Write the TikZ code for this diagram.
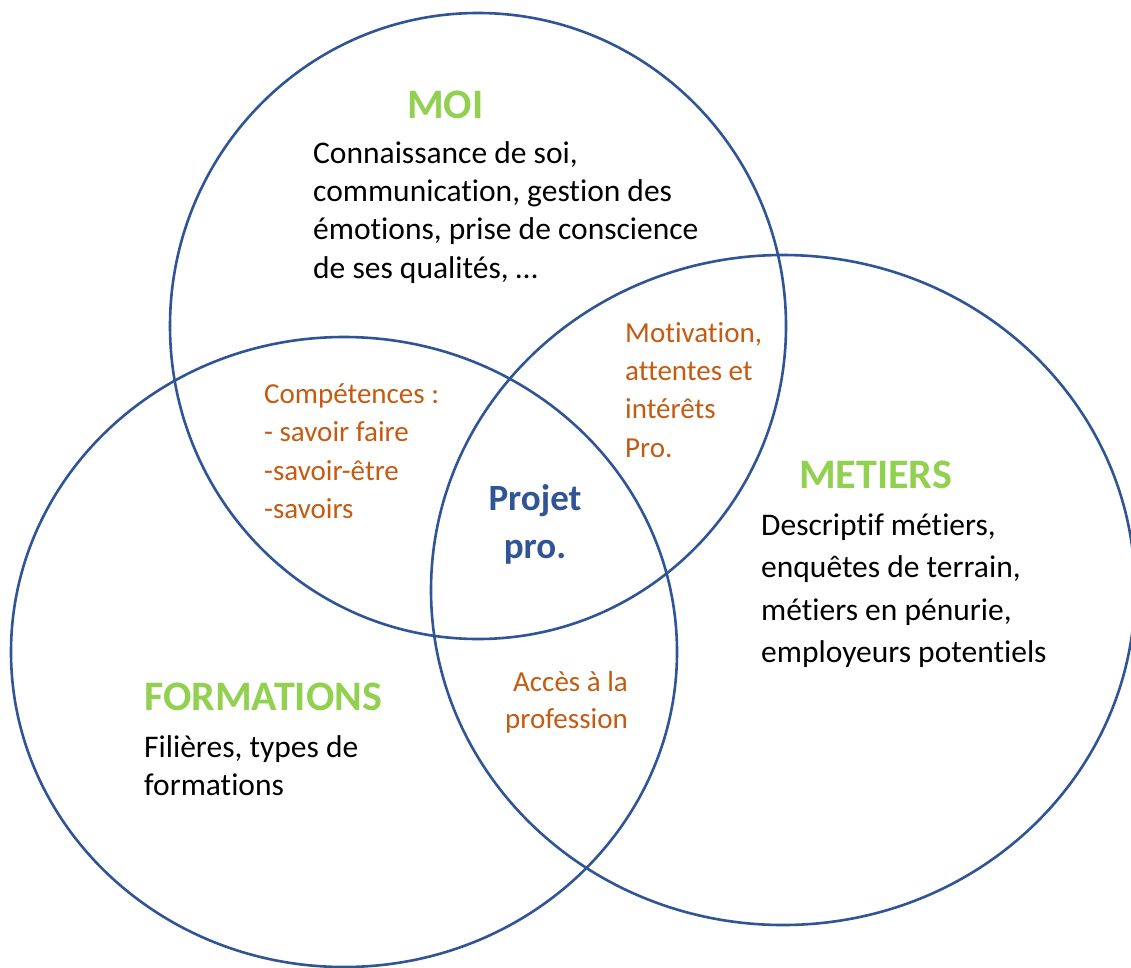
\documentclass[tikz,border=0pt]{standalone}
\usepackage{fontspec}
\setmainfont{Carlito}[Ligatures=NoCommon]
\definecolor{ringblue}{HTML}{2F5597}
\definecolor{headgreen}{HTML}{92D050}
\definecolor{interorange}{HTML}{C55A11}
\tikzset{
  ring/.style={draw=ringblue, line width=2.6pt},
  headtxt/.style={anchor=base west, inner sep=0pt, text=headgreen, font=\fontsize{42}{50}\selectfont\bfseries},
  bodytxt/.style={anchor=base west, inner sep=0pt, text=black, font=\fontsize{31.5}{38}\selectfont},
  intertxt/.style={anchor=base west, inner sep=0pt, text=interorange, font=\fontsize{29}{38}\selectfont},
  intertxtr/.style={anchor=base east, inner sep=0pt, text=interorange, font=\fontsize{29}{38}\selectfont},
  centertxt/.style={anchor=base, inner sep=0pt, text=ringblue, font=\fontsize{37}{48}\selectfont\bfseries}
}
\begin{document}
\begin{tikzpicture}[x=1pt,y=-1pt]
\useasboundingbox (0,0) rectangle (1131,967);
\clip (0,0) rectangle (1131,967);
\fill[white] (0,0) rectangle (1131,967);
% circles
\draw[ring] (478,326) ellipse [x radius=308, y radius=313];
\draw[ring] (344,652) ellipse [x radius=333, y radius=315];
\draw[ring] (783,590) ellipse [x radius=352, y radius=335];
% MOI
\node[headtxt] (moi) at (407,118) {MOI};
\node[bodytxt] (moi1) at (313,163) {Connaissance de soi,};
\node[bodytxt] (moi2) at (313,201) {communication, gestion des};
\node[bodytxt] (moi3) at (313,239) {émotions, prise de conscience};
\node[bodytxt] (moi4) at (313,278) {de ses qualités, …};
% METIERS
\node[headtxt] (met) at (799,488) {METIERS};
\node[bodytxt] (met1) at (761,535) {Descriptif métiers,};
\node[bodytxt] (met2) at (761,577) {enquêtes de terrain,};
\node[bodytxt] (met3) at (761,620) {métiers en pénurie,};
\node[bodytxt] (met4) at (761,662) {employeurs potentiels};
% FORMATIONS
\node[headtxt] (form) at (144,710) {FORMATIONS};
\node[bodytxt] (form1) at (144,757) {Filières, types de};
\node[bodytxt] (form2) at (144,795) {formations};
% intersections
\node[intertxt] (comp1) at (264,403) {Compétences :};
\node[intertxt] (comp2) at (264,441) {- savoir faire};
\node[intertxt] (comp3) at (264,480) {-savoir-être};
\node[intertxt] (comp4) at (264,518) {-savoirs};
\node[intertxt] (mot1) at (625,342) {Motivation,};
\node[intertxt] (mot2) at (625,380) {attentes et};
\node[intertxt] (mot3) at (625,418) {intérêts};
\node[intertxt] (mot4) at (625,457) {Pro.};
\node[intertxtr] (acc1) at (628,691) {Accès à la};
\node[intertxtr] (acc2) at (628,728) {profession};
% centre
\node[centertxt] (proj1) at (535,510) {Projet};
\node[centertxt] (proj2) at (535,558) {pro.};
\end{tikzpicture}
\end{document}
